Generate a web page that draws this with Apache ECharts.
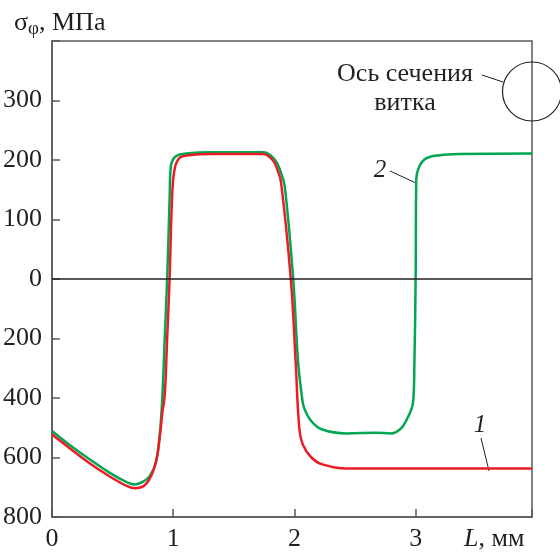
<!DOCTYPE html>
<html>
<head>
<meta charset="utf-8">
<script src="https://cdn.jsdelivr.net/npm/echarts@6/dist/echarts.min.js"></script>
<style>
  html, body { margin: 0; padding: 0; background: #fff; }
  #main { width: 560px; height: 552px; }
</style>
</head>
<body>
<div id="main"></div>
<script>
// L, мм и σφ, МПа (реальные значения, отрицательные — со знаком минус)
const curve1L = [0, 0.14, 0.31, 0.47, 0.62, 0.69, 0.78, 0.85, 0.89, 0.91, 0.93, 0.95, 0.97, 0.99, 1.01, 1.05, 1.13, 1.32, 1.74, 1.82, 1.86, 1.89, 1.97, 2.01, 2.04, 2.07, 2.14, 2.23, 2.43, 3.96]
const curve1S = [-523, -567, -619, -662, -696, -703, -687, -627, -527, -450, -390, -200, 0, 133, 183, 203, 208, 210, 210, 200, 183, 162, 0, -277, -500, -557, -600, -623, -637, -637]

const curve2L = [0, 0.14, 0.31, 0.47, 0.62, 0.68, 0.76, 0.81, 0.86, 0.89, 0.91, 0.93, 0.95, 0.97, 0.98, 1.02, 1.11, 1.32, 1.74, 1.84, 1.89, 1.92, 1.99, 2.03, 2.06, 2.08, 2.14, 2.23, 2.43, 2.67, 2.80, 2.87, 2.92, 2.98, 2.99, 3.00, 3.005, 3.03, 3.09, 3.20, 3.36, 3.96]
const curve2S = [-511, -556, -606, -650, -684, -691, -679, -660, -612, -517, -400, -200, 0, 133, 189, 206, 211, 213, 213, 200, 178, 156, 0, -278, -389, -433, -478, -506, -519, -517, -519, -506, -478, -411, -278, 0, 167, 189, 203, 208, 210, 211]

const yTicks = [-400, -300, -200, -100, 0, 100, 200, 300, 400]
const xTicks = [0, 1, 2, 3]

// ниже нуля шкала сжата вдвое
const toAxis = v => (v >= 0 ? v : v / 2)
const fromAxis = v => (v >= 0 ? v : -v * 2)
const pairs = (xs, ys) => xs.map((x, i) => [x, toAxis(ys[i])])

const ink = '#231f20'
const serif = 'Liberation Serif'

const chart = echarts.init(document.getElementById('main'))

const option = {
  animation: false,
  grid: {
    left: 52, right: 28, top: 41, bottom: 32,
    show: true, borderColor: '#58595b', borderWidth: 1.5
  },
  xAxis: {
    type: 'value',
    min: 0, max: 3.96, interval: 1,
    axisLine: { show: true, onZero: false, lineStyle: { color: '#58595b', width: 1.5 } },
    axisTick: { inside: true, length: 8, lineStyle: { color: '#58595b', width: 1.5 } },
    splitLine: { show: false },
    axisLabel: {
      margin: 9, fontFamily: serif, fontSize: 26, color: ink,
      formatter: v => (xTicks.includes(v) ? String(v) : '')
    }
  },
  yAxis: {
    type: 'value',
    min: -400, max: 400, interval: 100,
    axisLine: { show: true, onZero: false, lineStyle: { color: '#58595b', width: 1.5 } },
    axisTick: { inside: true, length: 8, lineStyle: { color: '#58595b', width: 1.5 } },
    splitLine: { show: false },
    axisLabel: {
      margin: 10, fontFamily: serif, fontSize: 26, color: ink,
      formatter: v => (v === 400 || !yTicks.includes(v) ? '' : String(fromAxis(v)))
    }
  },
  series: [
    {
      name: '2',
      type: 'line',
      data: pairs(curve2L, curve2S),
      smooth: 0.4,
      showSymbol: false,
      lineStyle: { color: '#00a651', width: 2.5 },
      markLine: {
        silent: true,
        symbol: 'none',
        label: { show: false },
        lineStyle: { color: ink, width: 1.5, type: 'solid' },
        data: [{ yAxis: 0 }]
      }
    },
    {
      name: '1',
      type: 'line',
      data: pairs(curve1L, curve1S),
      smooth: 0.4,
      showSymbol: false,
      lineStyle: { color: '#ed1c24', width: 2.5 }
    }
  ],
  graphic: [
    {
      type: 'text', left: 14, top: 10,
      style: {
        text: '{a|σ}{s|φ}{a|, МПа}',
        rich: {
          a: { fontFamily: serif, fontSize: 26, fill: ink },
          s: { fontFamily: serif, fontSize: 19, fill: ink, padding: [12, 0, 0, 0] }
        }
      }
    },
    {
      type: 'text', left: 464, top: 526,
      style: {
        text: '{i|L}{a|, мм}',
        rich: {
          i: { fontFamily: serif, fontStyle: 'italic', fontSize: 26, fill: ink },
          a: { fontFamily: serif, fontSize: 26, fill: ink }
        }
      }
    },
    {
      type: 'text', x: 405, y: 74,
      style: { text: 'Ось сечения', fontFamily: serif, fontSize: 26, fill: ink, align: 'center', verticalAlign: 'middle' }
    },
    {
      type: 'text', x: 405, y: 103,
      style: { text: 'витка', fontFamily: serif, fontSize: 26, fill: ink, align: 'center', verticalAlign: 'middle' }
    },
    {
      type: 'line', shape: { x1: 482, y1: 75, x2: 503, y2: 82 },
      style: { stroke: ink, lineWidth: 1 }
    },
    {
      type: 'circle', shape: { cx: 532, cy: 91.5, r: 29.5 },
      style: { fill: 'none', stroke: ink, lineWidth: 1.2 }
    },
    {
      type: 'text', x: 380, y: 170,
      style: { text: '2', fontFamily: serif, fontStyle: 'italic', fontSize: 25, fill: ink, align: 'center', verticalAlign: 'middle' }
    },
    {
      type: 'line', shape: { x1: 390, y1: 171, x2: 416, y2: 183 },
      style: { stroke: ink, lineWidth: 1 }
    },
    {
      type: 'text', x: 480, y: 425,
      style: { text: '1', fontFamily: serif, fontStyle: 'italic', fontSize: 25, fill: ink, align: 'center', verticalAlign: 'middle' }
    },
    {
      type: 'line', shape: { x1: 481, y1: 438, x2: 489, y2: 471 },
      style: { stroke: ink, lineWidth: 1 }
    }
  ]
}

chart.setOption(option)
</script>
</body>
</html>
